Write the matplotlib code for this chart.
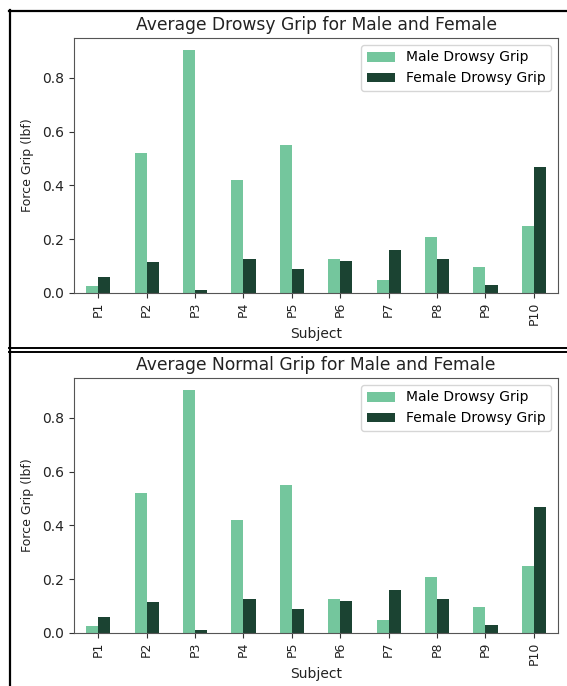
import matplotlib
matplotlib.use("Agg")
import matplotlib.pyplot as plt
import numpy as np
from matplotlib.lines import Line2D

subjects = ["P1", "P2", "P3", "P4", "P5", "P6", "P7", "P8", "P9", "P10"]
male_drowsy = [0.025, 0.522, 0.903, 0.419, 0.552, 0.126, 0.049, 0.207, 0.095, 0.249]
female_drowsy = [0.059, 0.115, 0.010, 0.126, 0.089, 0.120, 0.160, 0.126, 0.028, 0.470]
male_normal = [0.025, 0.522, 0.903, 0.419, 0.552, 0.126, 0.049, 0.207, 0.095, 0.249]
female_normal = [0.059, 0.115, 0.010, 0.126, 0.089, 0.120, 0.160, 0.126, 0.028, 0.470]
titles = ["Average Drowsy Grip for Male and Female", "Average Normal Grip for Male and Female"]
legend_labels = ["Male Drowsy Grip", "Female Drowsy Grip"]

LIGHT = "#74c69d"
DARK = "#1b4332"

W, H = 567, 686
fig = plt.figure(figsize=(W / 100, H / 100), dpi=100)

def px_axes(left, top, right, bottom):
    return fig.add_axes([left / W, 1 - bottom / H, (right - left) / W, (bottom - top) / H])

axes = [px_axes(74, 38, 558, 293), px_axes(74, 378, 558, 633)]
data = [(male_drowsy, female_drowsy), (male_normal, female_normal)]

x = np.arange(len(subjects))
w = 0.25
for ax, (m, f), t in zip(axes, data, titles):
    ax.bar(x - w / 2, m, width=w, color=LIGHT, label=legend_labels[0])
    ax.bar(x + w / 2, f, width=w, color=DARK, label=legend_labels[1])
    ax.set_xlim(-0.5, len(subjects) - 0.5)
    ax.set_ylim(0, max(max(m), max(f)) * 1.05)
    ax.set_xticks(x)
    ax.set_xticklabels(subjects, rotation=90, fontsize=9)
    ax.tick_params(axis="x", pad=2.5, length=3.5)
    ax.set_yticks([0.0, 0.2, 0.4, 0.6, 0.8])
    ax.set_title(t, fontsize=12.3, color="#222222")
    ax.set_xlabel("Subject", labelpad=2, color="#222222")
    ax.set_ylabel("Force Grip (lbf)", fontsize=9, labelpad=6, color="#222222")
    ax.tick_params(colors="#333333", labelcolor="#222222")
    ax.legend(loc="upper right")
    for s in ax.spines.values():
        s.set_color("#555555")

def hline(y, x0, x1, lw):
    fig.add_artist(Line2D([x0 / W, x1 / W], [1 - y / H, 1 - y / H], color="black", lw=lw,
                          transform=fig.transFigure))

def vline(x0, y0, y1, lw):
    fig.add_artist(Line2D([x0 / W, x0 / W], [1 - y0 / H, 1 - y1 / H], color="black", lw=lw,
                          transform=fig.transFigure))

hline(11, 9, W, 1.6)
hline(348, 9, W, 1.4)
hline(352, 9, W, 1.4)
vline(10, 10, H, 1.6)

fig.savefig("out.png", dpi=100)
